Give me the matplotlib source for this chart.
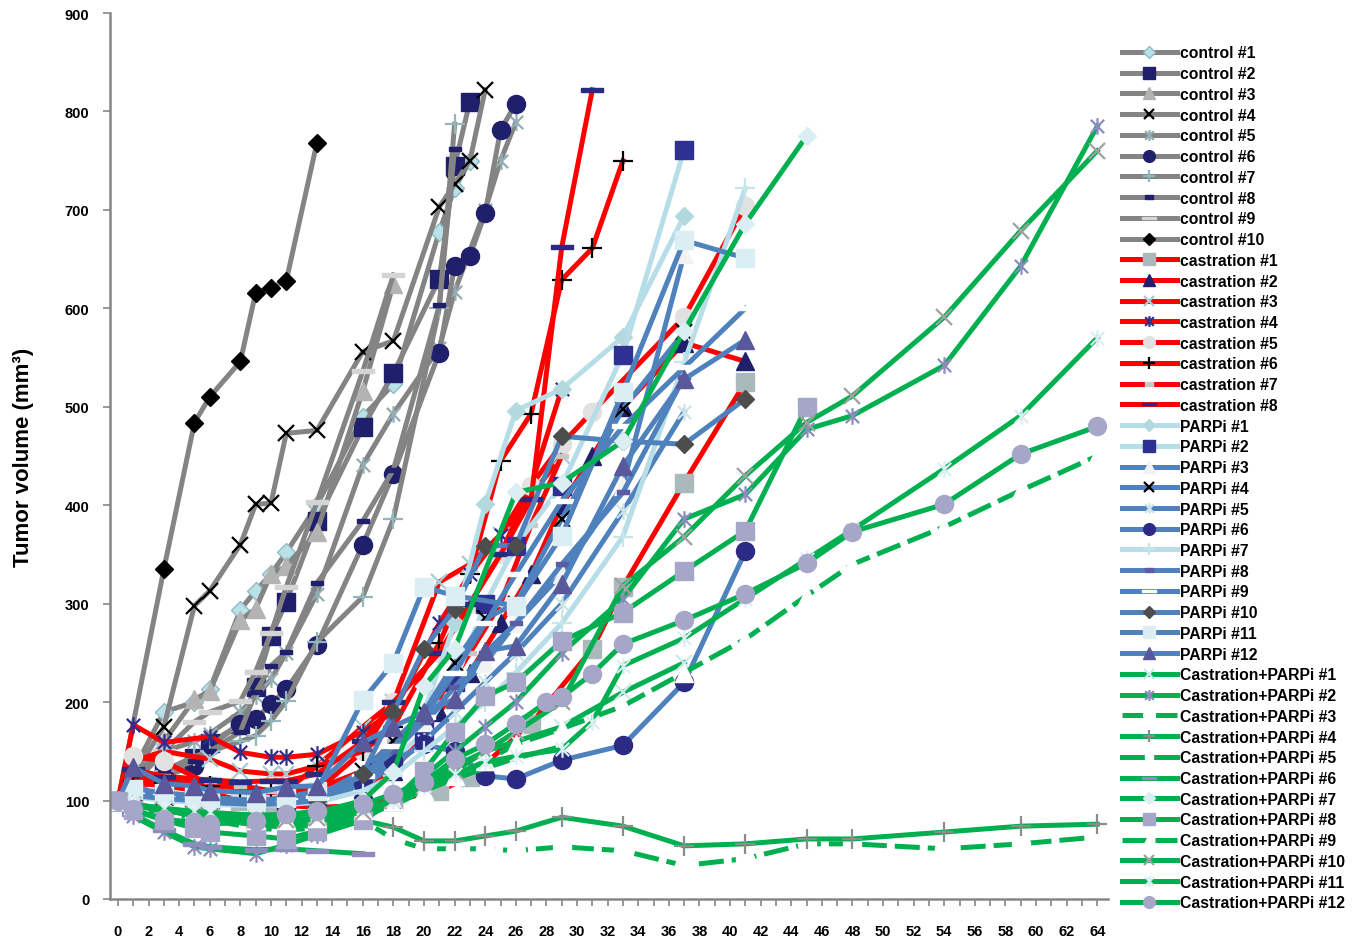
import matplotlib
matplotlib.use("Agg")
import matplotlib.pyplot as plt
from matplotlib.path import Path
from matplotlib.ticker import MultipleLocator

# ---- tumour volume (mm^3) by day, one (days, volumes) pair per animal ----
control_1 = ([0, 3, 5, 6, 8, 9, 10, 11, 13, 16, 18, 21, 22, 23],
             [100, 190, 200, 213, 294, 313, 330, 352, 400, 490, 523, 678, 722, 750])
control_2 = ([0, 3, 5, 6, 8, 9, 10, 11, 13, 16, 18, 21, 22, 23],
             [100, 130, 143, 158, 178, 215, 267, 302, 384, 479, 534, 630, 745, 810])
control_3 = ([0, 3, 5, 6, 8, 9, 10, 11, 13, 16, 18],
             [100, 160, 203, 211, 283, 295, 330, 338, 373, 516, 625])
control_4 = ([0, 3, 5, 6, 8, 9, 10, 11, 13, 16, 18, 21, 22, 23, 24],
             [100, 175, 298, 313, 360, 401, 402, 473, 476, 556, 567, 703, 726, 750, 822])
control_5 = ([0, 3, 5, 6, 8, 9, 10, 11, 13, 16, 18, 21, 22, 24, 25, 26],
             [100, 150, 160, 168, 190, 206, 223, 250, 310, 441, 493, 560, 617, 700, 750, 789])
control_6 = ([0, 3, 5, 6, 8, 9, 10, 11, 13, 16, 18, 21, 22, 23, 24, 25, 26],
             [100, 125, 135, 155, 178, 183, 198, 213, 258, 360, 432, 555, 643, 653, 697, 781, 808])
control_7 = ([0, 3, 5, 6, 8, 9, 10, 11, 13, 16, 18, 21, 22],
             [100, 130, 145, 150, 160, 166, 181, 201, 261, 307, 386, 600, 787])
control_8 = ([0, 3, 5, 6, 8, 9, 10, 11, 13, 16, 18, 21, 22],
             [100, 130, 140, 150, 170, 210, 237, 251, 321, 384, 436, 603, 762])
control_9 = ([0, 3, 5, 6, 8, 9, 10, 11, 13, 16, 18],
             [100, 150, 180, 190, 201, 231, 270, 317, 403, 536, 634])
control_10 = ([0, 3, 5, 6, 8, 9, 10, 11, 13],
              [100, 335, 484, 510, 546, 616, 621, 628, 768])

castration_1 = ([0, 1, 3, 6, 8, 10, 11, 13, 16, 18, 21, 23, 27, 31, 33, 37, 41],
                [100, 118, 115, 108, 100, 96, 95, 93, 95, 100, 110, 124, 178, 254, 317, 423, 525])
castration_2 = ([0, 1, 3, 6, 8, 10, 11, 13, 16, 18, 21, 23, 25, 27, 29, 31, 33, 37, 41],
                [100, 125, 120, 115, 110, 105, 104, 103, 112, 130, 190, 230, 280, 330, 400, 450, 500, 565, 546])
castration_3 = ([0, 1, 3, 6, 8, 10, 11, 13, 16, 18, 21, 23, 25, 27, 29],
                [100, 140, 150, 142, 130, 127, 127, 135, 175, 200, 322, 340, 370, 410, 450])
castration_4 = ([0, 1, 3, 6, 8, 10, 11, 13, 16, 18, 21, 23, 25, 27, 29],
                [100, 177, 159, 165, 149, 144, 144, 147, 170, 190, 280, 330, 370, 420, 518])
castration_5 = ([0, 1, 3, 6, 8, 10, 11, 13, 16, 18, 21, 23, 25, 27, 29, 31, 37, 41],
                [100, 145, 140, 116, 110, 105, 106, 110, 150, 200, 250, 300, 350, 420, 462, 495, 591, 704])
castration_6 = ([0, 1, 3, 6, 8, 10, 11, 13, 16, 18, 21, 23, 25, 27, 29, 31, 33],
                [100, 120, 118, 115, 110, 108, 110, 135, 150, 175, 260, 330, 445, 493, 629, 661, 750])
castration_7 = ([0, 1, 3, 6, 8, 10, 11, 13, 16, 18, 21, 23, 25, 27, 29],
                [100, 130, 125, 120, 115, 110, 110, 112, 130, 160, 200, 250, 300, 380, 450])
castration_8 = ([0, 1, 3, 6, 8, 10, 11, 13, 16, 18, 21, 23, 25, 27, 29, 31],
                [100, 132, 124, 121, 119, 120, 120, 127, 160, 200, 250, 300, 350, 406, 662, 822])

parpi_1 = ([0, 1, 3, 5, 6, 9, 11, 13, 16, 18, 20, 22, 24, 26, 29, 33, 37],
           [100, 110, 106, 104, 102, 100, 100, 102, 112, 140, 190, 280, 401, 496, 518, 571, 694])
parpi_2 = ([0, 1, 3, 5, 6, 9, 11, 13, 16, 18, 20, 22, 24, 26, 29, 33, 37],
           [100, 108, 105, 103, 101, 100, 100, 104, 120, 140, 170, 220, 300, 359, 420, 553, 761])
parpi_3 = ([0, 1, 3, 5, 6, 9, 11, 13, 16, 18, 20, 22, 24, 26, 29, 33, 37],
           [100, 112, 106, 102, 100, 97, 97, 100, 118, 150, 180, 210, 240, 280, 330, 420, 655])
parpi_4 = ([0, 1, 3, 5, 6, 9, 11, 13, 16, 18, 20, 22, 24, 26, 29, 33, 37],
           [100, 108, 104, 101, 99, 98, 100, 104, 130, 160, 190, 240, 285, 300, 386, 498, 576])
parpi_5 = ([0, 1, 3, 5, 6, 9, 11, 13, 16, 18, 20, 22, 24, 26, 29, 33, 37],
           [100, 105, 101, 99, 97, 96, 97, 100, 115, 135, 160, 190, 220, 250, 300, 394, 495])
parpi_6 = ([0, 1, 3, 5, 6, 9, 11, 13, 16, 18, 20, 22, 24, 26, 29, 33, 37, 41],
           [100, 108, 104, 102, 100, 98, 100, 104, 118, 140, 157, 150, 125, 122, 141, 156, 220, 353])
parpi_7 = ([0, 1, 3, 5, 6, 9, 11, 13, 16, 18, 20, 22, 24, 26, 29, 33, 37, 41],
           [100, 104, 100, 98, 96, 95, 96, 98, 110, 125, 150, 175, 200, 230, 280, 368, 545, 722])
parpi_8 = ([0, 1, 3, 5, 6, 9, 11, 13, 16, 18, 20, 22, 24, 26, 29, 33, 37],
           [100, 110, 106, 104, 102, 100, 102, 106, 125, 150, 180, 215, 250, 280, 340, 413, 530])
parpi_9 = ([0, 1, 3, 5, 6, 9, 11, 13, 16, 18, 20, 22, 24, 26, 29, 33, 37, 41],
           [100, 110, 106, 103, 101, 100, 101, 104, 125, 155, 185, 230, 280, 330, 404, 480, 540, 600])
parpi_10 = ([0, 1, 3, 5, 6, 9, 11, 13, 16, 18, 20, 22, 24, 26, 29, 33, 37, 41],
            [100, 105, 102, 100, 98, 96, 97, 100, 127, 190, 254, 295, 359, 359, 470, 465, 462, 508])
parpi_11 = ([0, 1, 3, 5, 6, 9, 11, 13, 16, 18, 20, 22, 26, 29, 33, 37, 41],
            [100, 112, 108, 105, 103, 100, 103, 110, 202, 240, 317, 308, 298, 369, 515, 669, 651])
parpi_12 = ([0, 1, 3, 5, 6, 9, 11, 13, 16, 18, 20, 22, 24, 26, 29, 33, 37, 41],
            [100, 134, 117, 115, 110, 108, 114, 115, 159, 175, 190, 203, 252, 257, 320, 440, 528, 568])

combo_1 = ([0, 1, 3, 5, 6, 9, 11, 13, 16, 18, 20, 22, 24, 26, 29, 33, 37],
           [100, 96, 92, 88, 86, 82, 80, 82, 88, 100, 118, 135, 150, 160, 175, 210, 240])
combo_2 = ([0, 1, 3, 5, 6, 9, 11, 13, 16, 18, 20, 22, 24, 26, 29, 33, 37, 41, 45, 48, 54, 59, 64],
           [100, 84, 68, 53, 51, 46, 55, 65, 80, 100, 125, 150, 175, 200, 250, 305, 386, 411, 477, 491, 542, 643, 785])
combo_3 = ([0, 1, 3, 5, 6, 9, 11, 13, 16, 18, 20, 22, 24, 26, 29, 33, 37, 41, 45, 48, 54, 59, 64],
           [100, 93, 88, 82, 80, 72, 70, 72, 80, 61, 51, 51, 51, 49, 53, 49, 34, 41, 56, 56, 51, 56, 63])
combo_4 = ([0, 1, 3, 5, 6, 9, 11, 13, 16, 18, 20, 22, 24, 26, 29, 33, 37, 41, 45, 48, 54, 59, 64],
           [100, 95, 90, 85, 82, 75, 73, 75, 80, 73, 59, 59, 64, 69, 83, 74, 54, 56, 61, 61, 68, 74, 76])
combo_5 = ([0, 1, 3, 5, 6, 9, 11, 13, 16, 18, 20, 22, 24, 26, 29],
           [100, 95, 90, 85, 83, 78, 76, 78, 85, 95, 110, 122, 133, 143, 155])
combo_6 = ([0, 1, 3, 5, 6, 9, 11, 13, 16],
           [100, 86, 70, 56, 53, 50, 51, 49, 46])
combo_7 = ([0, 1, 3, 5, 6, 9, 11, 13, 16, 18, 20, 22, 26, 29, 33, 37, 41, 45],
           [100, 96, 92, 88, 87, 85, 86, 88, 100, 129, 216, 254, 413, 423, 465, 577, 686, 775])
combo_8 = ([0, 1, 3, 5, 6, 9, 11, 13, 16, 18, 20, 22, 24, 26, 29, 33, 37, 41, 45],
           [100, 90, 80, 72, 68, 64, 61, 69, 80, 100, 130, 170, 206, 220, 262, 291, 333, 374, 500])
combo_9 = ([0, 1, 3, 5, 6, 9, 11, 13, 16, 18, 20, 22, 24, 26, 29, 33, 37, 41, 45, 48, 54, 59, 64],
           [100, 95, 90, 86, 84, 80, 80, 82, 90, 100, 110, 125, 140, 157, 173, 196, 230, 264, 308, 340, 378, 415, 450])
combo_10 = ([0, 1, 3, 5, 6, 9, 11, 13, 16, 18, 20, 22, 24, 26, 29, 33, 37, 41, 45, 48, 54, 59, 64],
            [100, 95, 90, 85, 83, 80, 80, 82, 88, 100, 115, 130, 150, 170, 200, 318, 368, 430, 484, 511, 591, 679, 760])
combo_11 = ([0, 1, 3, 5, 6, 9, 11, 13, 16, 18, 20, 22, 24, 26, 29, 31, 33, 37, 41, 45, 48, 54, 59, 64],
            [100, 96, 92, 89, 88, 85, 85, 87, 92, 100, 115, 127, 139, 145, 152, 180, 237, 265, 305, 345, 375, 437, 491, 570])
combo_12 = ([0, 1, 3, 5, 6, 9, 11, 13, 16, 18, 20, 22, 24, 26, 28, 29, 31, 33, 37, 41, 45, 48, 54, 59, 64],
            [100, 91, 81, 78, 76, 79, 86, 89, 96, 107, 119, 142, 157, 178, 200, 205, 229, 259, 283, 310, 341, 373, 401, 452, 480])

x_ticks = list(range(0, 65, 2))
y_ticks = list(range(0, 901, 100))
y_label = "Tumor volume (mm³)"

# ---- marker shapes ----
ASTERISK = Path([(-1, -1), (1, 1), (-1, 1), (1, -1), (0, -1.25), (0, 1.25)],
                [Path.MOVETO, Path.LINETO, Path.MOVETO, Path.LINETO, Path.MOVETO, Path.LINETO])
SHORT_DASH = [(-1, -0.38), (1, -0.38), (1, 0.38), (-1, 0.38), (-1, -0.38)]
LONG_DASH = [(-1, -0.2), (1, -0.2), (1, 0.2), (-1, 0.2), (-1, -0.2)]

GRAY = "#848484"
RED = "#FF0000"
LIGHT = "#B7DEE8"
STEEL = "#4F81BD"
GREEN = "#00B050"

# marker kind -> (marker, size, filled)
KIND = {
    "D": ("D", 9.5, True),
    "s": ("s", 12.5, True),
    "^": ("^", 13, True),
    "x": ("x", 12, False),
    "*": (ASTERISK, 12, False),
    "o": ("o", 13, True),
    "+": ("+", 14, False),
    "-": (SHORT_DASH, 9, True),
    "=": (LONG_DASH, 16, True),
}

# (label, data, line colour, marker kind, marker colour, edge colour, dashed)
series = [
    ("control #1", control_1, GRAY, "D", "#B9E1E7", "#8FBCC4", False),
    ("control #2", control_2, GRAY, "s", "#1F1F6B", "#1F1F6B", False),
    ("control #3", control_3, GRAY, "^", "#B3B3B3", "#B3B3B3", False),
    ("control #4", control_4, GRAY, "x", "#000000", "#000000", False),
    ("control #5", control_5, GRAY, "*", "#93AEB5", "#93AEB5", False),
    ("control #6", control_6, GRAY, "o", "#1F1F6B", "#1F1F6B", False),
    ("control #7", control_7, GRAY, "+", "#93B5BC", "#93B5BC", False),
    ("control #8", control_8, GRAY, "-", "#1F1F6B", "#1F1F6B", False),
    ("control #9", control_9, GRAY, "=", "#D4D4D4", "#D4D4D4", False),
    ("control #10", control_10, GRAY, "D", "#000000", "#000000", False),
    ("castration #1", castration_1, RED, "s", "#AAB9BC", "#AAB9BC", False),
    ("castration #2", castration_2, RED, "^", "#1F1F6B", "#1F1F6B", False),
    ("castration #3", castration_3, RED, "x", "#A8CAD2", "#A8CAD2", False),
    ("castration #4", castration_4, RED, "*", "#2E2E8C", "#2E2E8C", False),
    ("castration #5", castration_5, RED, "o", "#E1E1E1", "#E1E1E1", False),
    ("castration #6", castration_6, RED, "+", "#000000", "#000000", False),
    ("castration #7", castration_7, RED, "-", "#C8C8C8", "#C8C8C8", False),
    ("castration #8", castration_8, RED, "=", "#2A2A80", "#2A2A80", False),
    ("PARPi #1", parpi_1, LIGHT, "D", "#B2D9DE", "#B2D9DE", False),
    ("PARPi #2", parpi_2, LIGHT, "s", "#2E3192", "#2E3192", False),
    ("PARPi #3", parpi_3, STEEL, "^", "#F2F2F2", "#F2F2F2", False),
    ("PARPi #4", parpi_4, STEEL, "x", "#000000", "#000000", False),
    ("PARPi #5", parpi_5, STEEL, "*", "#CCE5E9", "#CCE5E9", False),
    ("PARPi #6", parpi_6, STEEL, "o", "#2B2B85", "#2B2B85", False),
    ("PARPi #7", parpi_7, LIGHT, "+", "#C6E6EA", "#C6E6EA", False),
    ("PARPi #8", parpi_8, STEEL, "-", "#5C5CA6", "#5C5CA6", False),
    ("PARPi #9", parpi_9, STEEL, "=", "#FFFFFF", "#FFFFFF", False),
    ("PARPi #10", parpi_10, STEEL, "D", "#4D4D4D", "#4D4D4D", False),
    ("PARPi #11", parpi_11, STEEL, "s", "#DAEEF3", "#DAEEF3", False),
    ("PARPi #12", parpi_12, STEEL, "^", "#58589A", "#58589A", False),
    ("Castration+PARPi #1", combo_1, GREEN, "x", "#CCE8EC", "#CCE8EC", False),
    ("Castration+PARPi #2", combo_2, GREEN, "*", "#8C8CBE", "#8C8CBE", False),
    ("Castration+PARPi #3", combo_3, GREEN, "o", "#FFFFFF", "#FFFFFF", True),
    ("Castration+PARPi #4", combo_4, GREEN, "+", "#8C8C8C", "#8C8C8C", False),
    ("Castration+PARPi #5", combo_5, GREEN, "-", "#FFFFFF", "#FFFFFF", False),
    ("Castration+PARPi #6", combo_6, GREEN, "=", "#8C8CBE", "#8C8CBE", False),
    ("Castration+PARPi #7", combo_7, GREEN, "D", "#DAEEF3", "#DAEEF3", False),
    ("Castration+PARPi #8", combo_8, GREEN, "s", "#A6A6C8", "#A6A6C8", False),
    ("Castration+PARPi #9", combo_9, GREEN, "^", "#FFFFFF", "#FFFFFF", True),
    ("Castration+PARPi #10", combo_10, GREEN, "x", "#A0A0A0", "#A0A0A0", False),
    ("Castration+PARPi #11", combo_11, GREEN, "*", "#DAEEF3", "#DAEEF3", False),
    ("Castration+PARPi #12", combo_12, GREEN, "o", "#A6A6C8", "#A6A6C8", False),
]

plt.rcParams["font.family"] = ["Liberation Sans", "DejaVu Sans"]

fig = plt.figure(figsize=(13.61, 9.45), dpi=100)
ax = fig.add_axes([110 / 1361, 45 / 945, 998 / 1361, 886 / 945])

for label, (days, vols), lcol, kind, mcol, ecol, dashed in series:
    marker, size, filled = KIND[kind]
    ax.plot(days, vols, color=lcol, lw=3.6,
            ls=(0, (5, 1.6)) if dashed else "-",
            marker=marker, markersize=size,
            markerfacecolor=mcol if filled else "none",
            markeredgecolor=ecol, markeredgewidth=1.0 if filled else 1.6,
            solid_joinstyle="round", label=label)

ax.set_xlim(-0.52, 64.7)
ax.set_ylim(0, 900)
ax.set_xticks(x_ticks)
ax.xaxis.set_minor_locator(MultipleLocator(1))
ax.set_yticks(y_ticks)

for side in ("top", "right"):
    ax.spines[side].set_visible(False)
for side in ("left", "bottom"):
    ax.spines[side].set_color("#868686")
    ax.spines[side].set_linewidth(1.8)
ax.tick_params(axis="both", which="both", direction="out", color="#868686",
               width=1.2, length=5, labelsize=10.5)
for t in ax.get_xticklabels() + ax.get_yticklabels():
    t.set_fontweight("bold")
ax.tick_params(axis="y", pad=10)
ax.tick_params(axis="x", pad=13)

ax.set_ylabel(y_label, fontsize=16, fontweight="bold", labelpad=22)

leg = ax.legend(loc="upper left", bbox_to_anchor=(1122 / 1361, 1 - 46.5 / 945),
                bbox_transform=fig.transFigure, frameon=False, numpoints=1,
                prop={"weight": "bold", "size": 11.3}, handlelength=3.5,
                handletextpad=0.2, labelspacing=0.365, markerscale=0.65,
                borderpad=0, borderaxespad=0)

fig.savefig("out.png", dpi=100)
